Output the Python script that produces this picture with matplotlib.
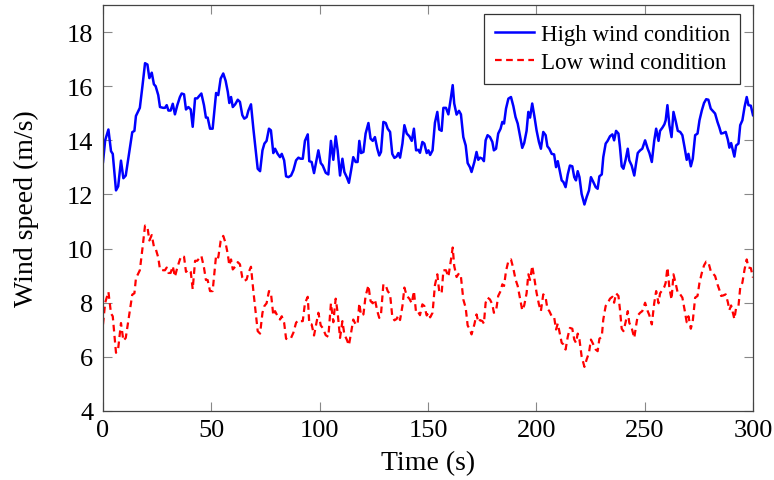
import matplotlib
matplotlib.use("Agg")
import matplotlib.pyplot as plt

plt.rcParams['font.family'] = ['Liberation Serif', 'DejaVu Serif']

time_s = [0, 1, 2.5, 3.7, 4.5, 6, 7, 8.3, 9.4, 10.5, 12.2, 13.5, 14.5, 15.2, 17, 18.2, 19.4, 20.5, 21.4, 22.5,
          23.5, 24.3, 25.5, 26.3, 27.8, 28.6, 29.4, 30.2, 31.2, 32.2, 33.2, 34.3, 35.5, 36.3, 37.4, 38.3, 39.4, 40.5, 41.4, 42.5,
          43.5, 44.3, 45.4, 46.6, 47.5, 48.3, 49.4, 50.6, 52.2, 53.2, 54.3, 55.5, 56.6, 57.6, 58.3, 59.1, 59.9, 61, 62.2, 63.2,
          64.3, 65.2, 66.3, 67.1, 68.3, 69.4, 70.5, 71.4, 72.5, 73.6, 74.5, 75.5, 76.6, 77.5, 78.6, 79.4, 80.6, 81.7, 82.5, 83.6,
          84.5, 85.6, 86.8, 87.9, 89.1, 90.2, 91.2, 92.2, 93.2, 94.5, 95.2, 96.3, 97.4, 98.3, 99.4, 100.5, 101.4, 102.8, 104, 105.2,
          106.3, 107.4, 108.3, 109.4, 110.5, 111.4, 112.5, 113.5, 114.5, 115.5, 116.6, 117.5, 118.3, 119.1, 120.2, 121.2, 122.5, 123.5, 124.5, 125.5,
          126.6, 127.5, 128.3, 129.4, 130.5, 131.4, 132.5, 133.5, 134.5, 135.5, 136.3, 137.1, 138.2, 139.1, 140.2, 141.4, 142.5, 143.5, 144.5, 145.5,
          146.3, 147.4, 148.3, 149.4, 150.2, 151, 152.1, 153.2, 154.3, 155.2, 156.3, 157.1, 158.3, 159.4, 160.4, 161.4, 162.1, 163.2, 164.3, 165.2,
          166.3, 167.4, 168.3, 169.4, 170.1, 171.4, 172.4, 173.2, 174, 175.1, 175.8, 176.6, 177.5, 178.6, 179.7, 180.4, 181.4, 182.4, 183.5, 184.3,
          185.1, 186, 187.1, 188.3, 189.4, 190.4, 191.4, 192.4, 193.5, 194.4, 195.5, 196.3, 197.1, 198.1, 199.1, 200.1, 201.2, 202.1, 203.2, 204.3,
          205.1, 206, 207.1, 208.2, 209.1, 209.9, 210.6, 211.7, 212.5, 213.5, 214.5, 215.5, 216.6, 217.5, 218.3, 219.1, 219.9, 220.9, 222.2, 223.2,
          224.3, 225.2, 226.3, 227.4, 228.3, 229.1, 230.2, 230.9, 232, 232.9, 234, 235.1, 235.9, 236.8, 237.9, 238.6, 239.4, 240.2, 241.2, 242.2,
          242.9, 244, 245.2, 246, 246.8, 247.9, 248.9, 250.2, 251.4, 252.2, 253.3, 254.4, 255.3, 256.4, 257.1, 258.2, 259.1, 259.7, 260.5, 261.4,
          262.4, 263.3, 264.4, 265.3, 266.4, 267.4, 268.4, 269.4, 270.2, 271.3, 272.2, 273.3, 274.4, 275.3, 276.4, 277.4, 278.4, 279.4, 280.5, 281.4,
          282.5, 283.6, 284.5, 285.3, 286.3, 287.4, 288.4, 289.1, 289.9, 290.7, 291.4, 292.2, 293.3, 294.1, 295.1, 296.1, 297.1, 297.9, 299, 300]

high_wind = [13.2, 14.0, 14.4, 13.6, 13.5, 12.15, 12.3, 13.25, 12.6, 12.7, 13.6, 14.3, 14.35, 14.9, 15.2, 16.0, 16.85, 16.8, 16.3, 16.5,
             16.07, 16.0, 15.67, 15.23, 15.2, 15.2, 15.3, 15.1, 15.1, 15.35, 14.96, 15.3, 15.6, 15.73, 15.7, 15.14, 15.23, 15.14, 14.5, 15.55,
             15.55, 15.63, 15.73, 15.3, 14.84, 14.84, 14.43, 14.43, 15.75, 15.67, 16.28, 16.47, 16.2, 15.79, 15.38, 15.6, 15.23, 15.33, 15.5, 15.42,
             14.93, 14.8, 14.86, 15.1, 15.33, 14.43, 13.63, 12.95, 12.86, 13.63, 13.88, 13.98, 14.43, 14.37, 13.53, 13.69, 13.5, 13.38, 13.5, 13.26,
             12.67, 12.64, 12.7, 12.9, 13.26, 13.36, 13.32, 13.32, 13.98, 14.22, 13.23, 13.2, 12.79, 13.16, 13.63, 13.16, 13.07, 12.8, 12.74, 13.98,
             13.28, 14.15, 13.63, 12.7, 13.32, 12.83, 12.64, 12.43, 12.89, 13.38, 13.2, 13.2, 13.98, 13.53, 13.57, 14.25, 14.64, 14.06, 13.98, 14.12,
             13.69, 13.44, 13.57, 14.68, 14.64, 14.43, 14.31, 13.5, 13.35, 13.4, 13.53, 13.36, 13.88, 14.56, 14.25, 14.15, 13.98, 14.43, 13.63, 13.65,
             13.54, 13.94, 13.88, 13.53, 13.63, 13.46, 13.63, 14.65, 15.05, 14.4, 14.35, 15.2, 15.2, 14.96, 15.48, 16.04, 15.36, 14.95, 15.09, 14.96,
             14.12, 13.81, 13.16, 13.0, 12.83, 13.2, 13.57, 13.28, 13.36, 13.32, 13.23, 14.0, 14.19, 14.12, 13.94, 13.63, 13.69, 14.25, 14.43, 14.68,
             14.62, 15.17, 15.54, 15.6, 15.26, 14.86, 14.62, 14.19, 13.72, 13.9, 14.35, 15.05, 14.84, 15.36, 14.89, 14.37, 13.94, 13.69, 14.31, 14.19,
             13.78, 13.69, 13.5, 13.48, 13.01, 13.23, 12.95, 12.52, 12.46, 12.27, 12.74, 13.07, 13.04, 12.64, 12.52, 12.86, 12.64, 12.02, 11.63, 11.9,
             12.15, 12.64, 12.46, 12.27, 12.21, 12.67, 12.74, 13.38, 13.88, 13.98, 14.15, 14.22, 14.0, 14.35, 14.25, 13.75, 13.04, 12.95, 13.28, 13.69,
             13.26, 13.07, 12.7, 13.13, 13.53, 13.63, 13.69, 14.0, 13.69, 13.53, 13.2, 13.98, 14.43, 13.98, 14.35, 14.47, 14.59, 14.74, 15.3, 14.56,
             14.12, 15.05, 14.68, 14.35, 14.31, 14.19, 13.75, 13.28, 13.5, 13.04, 13.32, 14.19, 14.25, 14.74, 15.11, 15.38, 15.52, 15.5, 15.17, 15.09,
             14.99, 14.68, 14.47, 14.25, 14.27, 14.31, 14.02, 13.73, 13.9, 13.63, 13.4, 13.81, 13.88, 14.56, 14.74, 15.23, 15.6, 15.3, 15.28, 14.93]

low_wind = [7.2, 8.0, 8.4, 7.6, 7.5, 6.15, 6.3, 7.25, 6.6, 6.7, 7.6, 8.3, 8.35, 8.9, 9.2, 10.0, 10.85, 10.8, 10.3, 10.5,
            10.07, 10.0, 9.67, 9.23, 9.2, 9.2, 9.3, 9.1, 9.1, 9.35, 8.96, 9.3, 9.6, 9.73, 9.7, 9.14, 9.23, 9.14, 8.5, 9.55,
            9.55, 9.63, 9.73, 9.3, 8.84, 8.84, 8.43, 8.43, 9.75, 9.67, 10.28, 10.47, 10.2, 9.79, 9.38, 9.6, 9.23, 9.33, 9.5, 9.42,
            8.93, 8.8, 8.86, 9.1, 9.33, 8.43, 7.63, 6.95, 6.86, 7.63, 7.88, 7.98, 8.43, 8.37, 7.53, 7.69, 7.5, 7.38, 7.5, 7.26,
            6.67, 6.64, 6.7, 6.9, 7.26, 7.36, 7.32, 7.32, 7.98, 8.22, 7.23, 7.2, 6.79, 7.16, 7.63, 7.16, 7.07, 6.8, 6.74, 7.98,
            7.28, 8.15, 7.63, 6.7, 7.32, 6.83, 6.64, 6.43, 6.89, 7.38, 7.2, 7.2, 7.98, 7.53, 7.57, 8.25, 8.64, 8.06, 7.98, 8.12,
            7.69, 7.44, 7.57, 8.68, 8.64, 8.43, 8.31, 7.5, 7.35, 7.4, 7.53, 7.36, 7.88, 8.56, 8.25, 8.15, 7.98, 8.43, 7.63, 7.65,
            7.54, 7.94, 7.88, 7.53, 7.63, 7.46, 7.63, 8.65, 9.05, 8.4, 8.35, 9.2, 9.2, 8.96, 9.48, 10.04, 9.36, 8.95, 9.09, 8.96,
            8.12, 7.81, 7.16, 7.0, 6.83, 7.2, 7.57, 7.28, 7.36, 7.32, 7.23, 8.0, 8.19, 8.12, 7.94, 7.63, 7.69, 8.25, 8.43, 8.68,
            8.62, 9.17, 9.54, 9.6, 9.26, 8.86, 8.62, 8.19, 7.72, 7.9, 8.35, 9.05, 8.84, 9.36, 8.89, 8.37, 7.94, 7.69, 8.31, 8.19,
            7.78, 7.69, 7.5, 7.48, 7.01, 7.23, 6.95, 6.52, 6.46, 6.27, 6.74, 7.07, 7.04, 6.64, 6.52, 6.86, 6.64, 6.02, 5.63, 5.9,
            6.15, 6.64, 6.46, 6.27, 6.21, 6.67, 6.74, 7.38, 7.88, 7.98, 8.15, 8.22, 8.0, 8.35, 8.25, 7.75, 7.04, 6.95, 7.28, 7.69,
            7.26, 7.07, 6.7, 7.13, 7.53, 7.63, 7.69, 8.0, 7.69, 7.53, 7.2, 7.98, 8.43, 7.98, 8.35, 8.47, 8.59, 8.74, 9.3, 8.56,
            8.12, 9.05, 8.68, 8.35, 8.31, 8.19, 7.75, 7.28, 7.5, 7.04, 7.32, 8.19, 8.25, 8.74, 9.11, 9.38, 9.52, 9.5, 9.17, 9.09,
            8.99, 8.68, 8.47, 8.25, 8.27, 8.31, 8.02, 7.73, 7.9, 7.63, 7.4, 7.81, 7.88, 8.56, 8.74, 9.23, 9.6, 9.3, 9.28, 8.93]

x_ticks = [0, 50, 100, 150, 200, 250, 300]
y_ticks = [4, 6, 8, 10, 12, 14, 16, 18]

fig = plt.figure(figsize=(7.74, 4.81), dpi=100)
ax = fig.add_axes([103 / 774, 69 / 481, 650 / 774, 406 / 481])

ax.plot(time_s, high_wind, color='#0000ff', lw=1.8, label='High wind condition', solid_joinstyle='round')
ax.plot(time_s, low_wind, color='#ff0000', lw=1.6, dashes=(3, 2), label='Low wind condition')

ax.set_xlim(0, 300)
ax.set_ylim(4, 19)
ax.set_xticks(x_ticks)
ax.set_yticks(y_ticks)
ax.tick_params(direction='in', length=6.5, width=0.8, color='#888888', labelsize=19,
               top=True, right=True)
ax.tick_params(axis='y', pad=7)
ax.tick_params(axis='x', pad=6)
for s in ax.spines.values():
    s.set_color('#444444')
    s.set_linewidth(0.9)

ax.set_xlabel('Time (s)', fontsize=20, labelpad=6)
ax.set_ylabel('Wind speed (m/s)', fontsize=20, labelpad=20)

leg = ax.legend(loc='upper right', bbox_to_anchor=((740 - 103) / 650, (412 - 15) / 406),
                borderaxespad=0, fontsize=16.5, fancybox=False, edgecolor='#333333',
                framealpha=1, handlelength=1.7, handletextpad=0.3, borderpad=0.45, labelspacing=0.3)
leg.get_frame().set_linewidth(0.9)

fig.savefig('out.png', dpi=100)
